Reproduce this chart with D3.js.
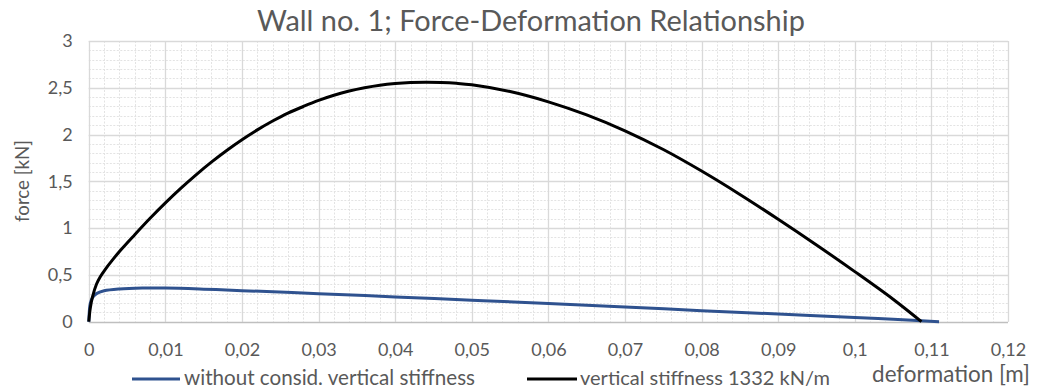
<!DOCTYPE html>
<html><head><meta charset="utf-8">
<script src="https://cdn.jsdelivr.net/npm/d3@7"></script>
<style>
html,body{margin:0;padding:0;background:#fff;}
svg text{font-family:Lato,"Open Sans",sans-serif;fill:#595959;}
</style></head>
<body>
<svg id="chart" width="1038" height="391"></svg>
<script>
const title = "Wall no. 1; Force-Deformation Relationship";
const xTitle = "deformation [m]";
const yTitle = "force [kN]";
const seriesNames = ["without consid. vertical stiffness", "vertical stiffness 1332 kN/m"];
const xTicks = [0,0.01,0.02,0.03,0.04,0.05,0.06,0.07,0.08,0.09,0.1,0.11,0.12];
const yTicks = [0,0.5,1,1.5,2,2.5,3];
const xMinor = d3.range(0, 0.12001, 0.002);
const yMinor = d3.range(0, 3.0001, 0.1);

const blueX = [0,0.0002,0.0005,0.001,0.002,0.004,0.007,0.01,0.015,0.02,0.03,0.04,0.05,0.06,0.07,0.08,0.09,0.1,0.105,0.111];
const blueY = [0,0.2,0.26,0.3,0.33,0.35,0.36,0.36,0.348,0.332,0.3,0.265,0.23,0.195,0.158,0.118,0.082,0.045,0.025,0];

const blackX = [0,0.0002,0.0005,0.001,0.0015,0.0022,0.003,0.004,0.006,0.008,0.01,0.012,0.014,0.016,0.018,0.02,0.022,0.024,0.026,0.028,0.03,0.032,0.034,0.036,0.038,0.04,0.042,0.044,0.046,0.048,0.05,0.055,0.06,0.065,0.07,0.075,0.08,0.085,0.09,0.095,0.1,0.105,0.1087];
const blackY = [0,0.15,0.27,0.4,0.48,0.565,0.65,0.75,0.93,1.105,1.27,1.425,1.57,1.705,1.83,1.945,2.05,2.145,2.23,2.3,2.365,2.42,2.465,2.5,2.527,2.545,2.556,2.56,2.557,2.548,2.532,2.46,2.35,2.21,2.04,1.84,1.61,1.36,1.095,0.82,0.535,0.24,0];

const svg = d3.select("#chart");
const L = 88.8, R = 1008, T = 41, B = 321.7;
const x = d3.scaleLinear().domain([0,0.12]).range([L,R]);
const y = d3.scaleLinear().domain([0,3]).range([B,T]);
const fmt = v => String(+v.toFixed(3)).replace(".", ",");

function fit(sel, w) {
  const cur = sel.node().getComputedTextLength();
  const fs = parseFloat(sel.attr("font-size"));
  sel.attr("font-size", (fs * w / cur).toFixed(2));
}

// minor grid
const g = svg.append("g");
g.selectAll(".mx").data(xMinor).join("line")
  .attr("x1", d=>Math.round(x(d))+0.5).attr("x2", d=>Math.round(x(d))+0.5)
  .attr("y1", T).attr("y2", B)
  .attr("stroke", "#e3e3e3").attr("stroke-dasharray", "2,1.5");
g.selectAll(".my").data(yMinor).join("line")
  .attr("y1", d=>Math.round(y(d))+0.5).attr("y2", d=>Math.round(y(d))+0.5)
  .attr("x1", L).attr("x2", R)
  .attr("stroke", "#e3e3e3").attr("stroke-dasharray", "2,1.5");
// major grid
g.selectAll(".Mx").data(xTicks).join("line")
  .attr("x1", d=>Math.round(x(d))+0.5).attr("x2", d=>Math.round(x(d))+0.5)
  .attr("y1", T).attr("y2", B).attr("stroke", "#d9d9d9").attr("stroke-width", 1.3);
g.selectAll(".My").data(yTicks).join("line")
  .attr("y1", d=>Math.round(y(d))+0.5).attr("y2", d=>Math.round(y(d))+0.5)
  .attr("x1", L).attr("x2", R).attr("stroke", d=>d===0?"#bfbfbf":"#d9d9d9").attr("stroke-width", 1.3);

// axes labels via d3 axis
const xAxis = svg.append("g").attr("transform", `translate(0,${B})`)
  .call(d3.axisBottom(x).tickValues(xTicks).tickFormat(fmt).tickSize(0));
xAxis.select(".domain").remove();
xAxis.selectAll("text").attr("font-size", 18).attr("font-family", "Lato").attr("fill", "#595959")
  .attr("dy", null).attr("y", 34.5);
const yAxis = svg.append("g").attr("transform", `translate(${L},0)`)
  .call(d3.axisLeft(y).tickValues(yTicks).tickFormat(fmt).tickSize(0).tickPadding(16));
yAxis.select(".domain").remove();
yAxis.selectAll("text").attr("font-size", 18).attr("font-family", "Lato").attr("fill", "#595959");

// lines
const line = d3.line().x(d=>x(d[0])).y(d=>y(d[1])).curve(d3.curveCatmullRom.alpha(0.5));
svg.append("path").datum(blueX.map((v,i)=>[v,blueY[i]]))
  .attr("d", line).attr("fill","none").attr("stroke","#2f528f").attr("stroke-width",3);
svg.append("path").datum(blackX.map((v,i)=>[v,blackY[i]]))
  .attr("d", line).attr("fill","none").attr("stroke","#000").attr("stroke-width",3);

// title
const tt = svg.append("text").attr("x", 531).attr("y", 31).attr("text-anchor","middle")
  .attr("font-size", 28).text(title);
fit(tt, 548);
const yt = svg.append("text").attr("transform","translate(29,181) rotate(-90)").attr("text-anchor","middle")
  .attr("font-size", 20).text(yTitle);
fit(yt, 82);
const xt = svg.append("text").attr("x", 951).attr("y", 382).attr("text-anchor","middle")
  .attr("font-size", 20).text(xTitle);
fit(xt, 158);

// legend
const leg = [{x1:132,x2:180,tx:184,w:291,c:"#2f528f",n:seriesNames[0]},{x1:527,x2:577,tx:580,w:250,c:"#000",n:seriesNames[1]}];
leg.forEach(l=>{
  svg.append("line").attr("x1",l.x1).attr("x2",l.x2).attr("y1",379).attr("y2",379)
    .attr("stroke",l.c).attr("stroke-width",3);
  const t = svg.append("text").attr("x",l.tx).attr("y",385).attr("font-size",18).text(l.n);
  fit(t, l.w);
});
</script>
</body></html>
